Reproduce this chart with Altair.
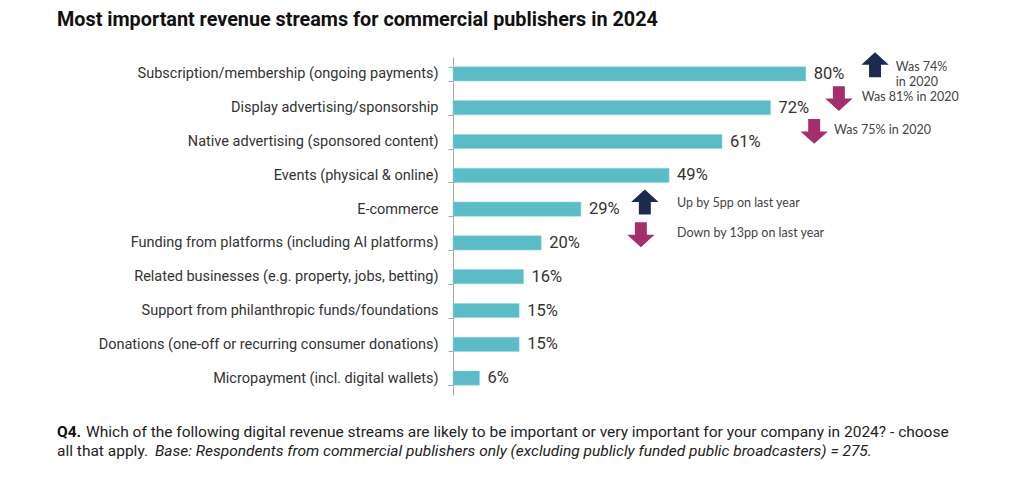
import altair as alt
import pandas as pd

categories = [
    "Subscription/membership (ongoing payments)",
    "Display advertising/sponsorship",
    "Native advertising (sponsored content)",
    "Events (physical & online)",
    "E-commerce",
    "Funding from platforms (including AI platforms)",
    "Related businesses (e.g. property, jobs, betting)",
    "Support from philanthropic funds/foundations",
    "Donations (one-off or recurring consumer donations)",
    "Micropayment (incl. digital wallets)",
]
values = [80, 72, 61, 49, 29, 20, 16, 15, 15, 6]

ann_category = [categories[0], categories[1], categories[2], categories[4], categories[5]]
ann_direction = ["up", "down", "down", "up", "down"]
ann_arrow_x = [95.7, 87.5, 81.9, 43.5, 42.6]
ann_arrow_dy = [-2, -2, -3, 0, -1]
ann_text_x = [100.4, 92.7, 86.4, 50.8, 50.8]
ann_text_dy = [0, -4, -4, 1, -3]
ann_text = [["Was 74%", "in 2020"], ["Was 81% in 2020"], ["Was 75% in 2020"],
            ["Up by 5pp on last year"], ["Down by 13pp on last year"]]

title_text = "Most important revenue streams for commercial publishers in 2024"
foot_q = "Q4."
foot_l1 = "Which of the following digital revenue streams are likely to be important or very important for your company in 2024? - choose"
foot_l2a = "all that apply."
foot_l2b = "Base: Respondents from commercial publishers only (excluding publicly funded public broadcasters) = 275."

df = pd.DataFrame({"category": categories, "value": values})
df["label"] = [f"{v}%" for v in values]
ann = pd.DataFrame({
    "category": ann_category, "dir": ann_direction, "ax": ann_arrow_x,
    "ady": ann_arrow_dy, "tx": ann_text_x, "tdy": ann_text_dy, "text": ann_text,
})

UP = "M0,-1L1.1,0L0.48,0L0.48,1L-0.48,1L-0.48,0L-1.1,0Z"
DOWN = "M0,1L1.1,0L0.48,0L0.48,-1L-0.48,-1L-0.48,0L-1.1,0Z"
FONT = "Roboto"
ANN_FONT = "Lato"

xs = alt.Scale(domain=[0, 100], nice=False)
ys = alt.Y("category:N", sort=categories, title=None,
           scale=alt.Scale(paddingInner=0.58, paddingOuter=0.29),
           axis=alt.Axis(domain=True, domainColor="#a8a8a8", ticks=True, tickBand="extent",
                         tickColor="#a8a8a8", tickSize=5, labelPadding=10,
                         labelFont=FONT, labelFontSize=14.5, labelColor="#333333",
                         labelLimit=420))

bars = alt.Chart(df).mark_bar(color="#5bbcc5", stroke="#8fd3d8", strokeWidth=0.5).encode(
    x=alt.X("value:Q", scale=xs, axis=None), y=ys)
labels = alt.Chart(df).mark_text(align="left", dx=8, font=FONT, fontSize=16.5, color="#333333").encode(
    x="value:Q", y=alt.Y("category:N", sort=categories), text="label:N")

arrows_up = alt.Chart(ann).transform_filter("datum.dir == 'up'").mark_point(
    shape=UP, filled=True, size=620, color="#1b2a4e", opacity=1).encode(
    x="ax:Q", y=alt.Y("category:N", sort=categories),
    yOffset=alt.YOffset("ady:Q", scale=None))
arrows_down = alt.Chart(ann).transform_filter("datum.dir == 'down'").mark_point(
    shape=DOWN, filled=True, size=620, color="#a3306b", opacity=1).encode(
    x="ax:Q", y=alt.Y("category:N", sort=categories),
    yOffset=alt.YOffset("ady:Q", scale=None))
ann_txt = alt.Chart(ann).mark_text(align="left", baseline="middle", font=ANN_FONT, fontSize=12.5,
                                   color="#444444", lineHeight=15).encode(
    x="tx:Q", y=alt.Y("category:N", sort=categories),
    yOffset=alt.YOffset("tdy:Q", scale=None), text="text")

one = pd.DataFrame({"a": [0]})
title = alt.Chart(one).mark_text(text=title_text, align="left", baseline="middle", font=FONT,
                                 fontSize=19.8, fontWeight="bold", color="#111111").encode(
    x=alt.value(-396), y=alt.value(-37))
fq = alt.Chart(one).mark_text(text=foot_q, align="left", baseline="middle", font=FONT,
                              fontSize=15.5, fontWeight="bold", color="#111111").encode(
    x=alt.value(-396), y=alt.value(375))
f1 = alt.Chart(one).mark_text(text=foot_l1, align="left", baseline="middle", font=FONT,
                              fontSize=15.5, color="#222222").encode(
    x=alt.value(-367), y=alt.value(375))
f2a = alt.Chart(one).mark_text(text=foot_l2a, align="left", baseline="middle", font=FONT,
                               fontSize=15.5, color="#222222").encode(
    x=alt.value(-396), y=alt.value(394))
f2b = alt.Chart(one).mark_text(text=foot_l2b, align="left", baseline="middle", font=FONT,
                               fontSize=15.5, fontStyle="italic", color="#222222").encode(
    x=alt.value(-298), y=alt.value(394))

chart = alt.layer(bars, labels, arrows_up, arrows_down, ann_txt, title, fq, f1, f2a, f2b).properties(
    width=441, height=338,
    autosize=alt.AutoSizeParams(type="none"),
    padding={"left": 445, "top": 49, "right": 120, "bottom": 95},
).configure(background="white").configure_view(strokeWidth=0, stroke="transparent")

chart.save("out.html", embed_options={"renderer": "svg", "actions": False})
